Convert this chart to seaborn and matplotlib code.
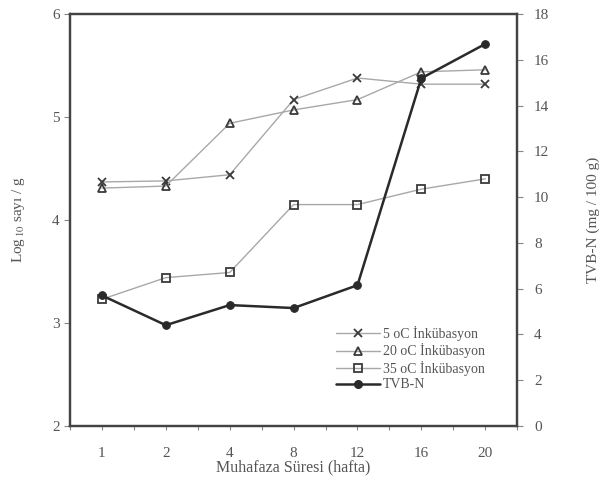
import matplotlib
matplotlib.use("Agg")
import matplotlib.pyplot as plt
import seaborn as sns
import pandas as pd
from matplotlib.lines import Line2D

weeks = ["1", "2", "4", "8", "12", "16", "20"]
inc5 = [4.37, 4.38, 4.44, 5.17, 5.38, 5.32, 5.32]
inc20 = [4.31, 4.33, 4.94, 5.07, 5.17, 5.44, 5.46]
inc35 = [3.23, 3.44, 3.49, 4.15, 4.15, 4.30, 4.40]
tvbn = [5.70, 4.40, 5.28, 5.15, 6.15, 15.2, 16.7]

labels = ["5 oC İnkübasyon", "20 oC İnkübasyon", "35 oC İnkübasyon", "TVB-N"]

sns.set_style("white")
plt.rcParams['font.family'] = ['Liberation Serif', 'DejaVu Serif']
plt.rcParams['mathtext.fontset'] = 'stix'

txt = "#555555"
fig = plt.figure(figsize=(6.06, 4.90), dpi=100)
ax = fig.add_axes([0.1155, 0.131, 0.738, 0.84])
ax2 = ax.twinx()

line_c = "#a8a8a8"
mk_c = "#3a3a3a"

df_left = pd.DataFrame({
    "week": weeks * 3,
    "val": inc5 + inc20 + inc35,
    "series": [labels[0]] * 7 + [labels[1]] * 7 + [labels[2]] * 7,
})
styles = [("x", "none"), ("^", "none"), ("s", "none")]
handles = []
for lab, (m, fc) in zip(labels[:3], styles):
    sub = df_left[df_left["series"] == lab]
    sns.lineplot(data=sub, x="week", y="val", ax=ax, sort=False, color=line_c,
                 lw=1.0, marker=m, markersize=5.5, markerfacecolor=fc,
                 markeredgecolor=mk_c, markeredgewidth=1.3, legend=False)
    handles.append(Line2D([], [], color=line_c, lw=1.0, marker=m, markersize=5.5,
                          markerfacecolor=fc, markeredgecolor=mk_c, markeredgewidth=1.3))

df_r = pd.DataFrame({"week": weeks, "val": tvbn})
sns.lineplot(data=df_r, x="week", y="val", ax=ax2, sort=False, color="#2a2a2a",
             lw=1.8, marker="o", markersize=5.5, markerfacecolor="#2a2a2a",
             markeredgecolor="#2a2a2a", legend=False)
handles.append(Line2D([], [], color="#2a2a2a", lw=1.8, marker="o", markersize=5.5,
                      markerfacecolor="#2a2a2a", markeredgecolor="#2a2a2a"))

ax.set_xlim(-0.5, 6.5)
ax.set_ylim(2, 6)
ax.set_yticks([2, 3, 4, 5, 6])
ax2.set_ylim(0, 18)
ax2.set_yticks(range(0, 19, 2))

ax.set_xticks(range(7))
ax.set_xticklabels(weeks)
ax.set_xticks([i + 0.5 for i in range(-1, 7)], minor=True)

for a in (ax, ax2):
    for s in a.spines.values():
        s.set_color("#444444")
        s.set_linewidth(1.6)
ax.tick_params(axis="both", which="both", direction="out", length=4, color="#888888",
               labelsize=11, labelcolor=txt, width=0.8)
ax.tick_params(axis="x", which="both", bottom=True, length=3, pad=12)
ax.tick_params(axis="y", left=True)
ax2.tick_params(axis="y", direction="out", length=4, color="#888888", labelsize=11,
                labelcolor=txt, right=True, pad=8)

ax.set_xlabel("Muhafaza Süresi (hafta)", fontsize=11.5, color=txt, labelpad=0)
ax.set_ylabel("Log$_{\\,10}$ sayı / g", fontsize=11, color=txt, labelpad=18)
ax2.set_ylabel("TVB-N (mg / 100 g)", fontsize=11, color=txt, labelpad=27)

leg = ax2.legend(handles, labels, loc="lower right", bbox_to_anchor=(0.94, 0.07),
                 frameon=False, fontsize=10, handlelength=3.2, handletextpad=0.2,
                 labelspacing=0.18, borderaxespad=0)
for t in leg.get_texts():
    t.set_color(txt)

fig.savefig("out.png", dpi=100)
